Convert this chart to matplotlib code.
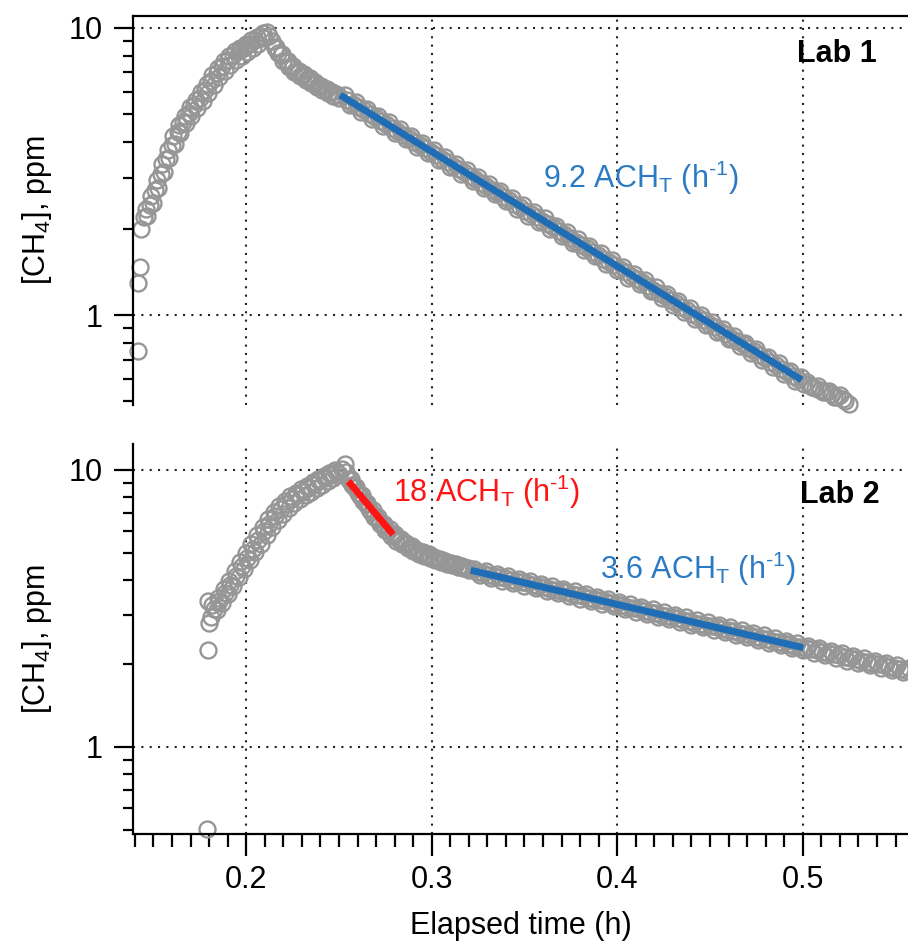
import matplotlib
matplotlib.use("Agg")
import matplotlib.pyplot as plt
from matplotlib.ticker import LogLocator, MultipleLocator, NullFormatter, FixedFormatter, FixedLocator

plt.rcParams['font.family'] = ['Liberation Sans', 'DejaVu Sans']
plt.rcParams['mathtext.default'] = 'regular'
plt.rcParams['font.size'] = 22

# ---- Lab 1 data (elapsed time in h, CH4 in ppm) ----
lab1_time = [0.1418, 0.1418, 0.1429,
    0.1435, 0.1450, 0.1465, 0.1480, 0.1495, 0.1510, 0.1525, 0.1540, 0.1555, 0.1570,
    0.1585, 0.1600, 0.1615, 0.1630, 0.1645, 0.1660, 0.1675, 0.1690, 0.1705, 0.1720,
    0.1735, 0.1750, 0.1765, 0.1780, 0.1795, 0.1810, 0.1825, 0.1840, 0.1855, 0.1870,
    0.1885, 0.1900, 0.1915, 0.1930, 0.1945, 0.1960, 0.1975, 0.1990, 0.2005, 0.2020,
    0.2035, 0.2050, 0.2065, 0.2080, 0.2095, 0.2110, 0.2125, 0.2140,
    0.2155, 0.2170, 0.2185, 0.2200, 0.2215, 0.2230, 0.2245, 0.2260, 0.2275, 0.2290,
    0.2305, 0.2320, 0.2335, 0.2350, 0.2365, 0.2380, 0.2395, 0.2410, 0.2425, 0.2440,
    0.2455, 0.2470, 0.2485, 0.2500,
    0.253, 0.256, 0.259, 0.262, 0.265, 0.268, 0.271, 0.274, 0.277, 0.280,
    0.283, 0.286, 0.289, 0.292, 0.295, 0.298, 0.301, 0.304, 0.307, 0.310,
    0.313, 0.316, 0.319, 0.322, 0.325, 0.328, 0.331, 0.334, 0.337, 0.340,
    0.343, 0.346, 0.349, 0.352, 0.355, 0.358, 0.361, 0.364, 0.367, 0.370,
    0.373, 0.376, 0.379, 0.382, 0.385, 0.388, 0.391, 0.394, 0.397, 0.400,
    0.403, 0.406, 0.409, 0.412, 0.415, 0.418, 0.421, 0.424, 0.427, 0.430,
    0.433, 0.436, 0.439, 0.442, 0.445, 0.448, 0.451, 0.454, 0.457, 0.460,
    0.463, 0.466, 0.469, 0.472, 0.475, 0.478, 0.481, 0.484, 0.487, 0.490,
    0.493, 0.496, 0.499, 0.502, 0.505, 0.508, 0.511, 0.514, 0.517, 0.520,
    0.523, 0.525]
lab1_ch4 = [0.75, 1.29, 1.47,
    2.00, 2.20, 2.22, 2.42, 2.45, 2.72, 2.78, 3.10, 3.15, 3.50,
    3.52, 3.92, 3.95, 4.35, 4.32, 4.72, 4.65, 5.05, 4.92, 5.38,
    5.25, 5.72, 5.55, 6.10, 5.95, 6.55, 6.35, 6.95, 6.75, 7.35,
    7.10, 7.75, 7.45, 8.05, 7.75, 8.30, 8.00, 8.55, 8.25, 8.80,
    8.50, 9.05, 8.80, 9.35, 9.20, 9.70, 9.40, 9.00,
    8.55, 8.20, 8.05, 7.70, 7.65, 7.30, 7.25, 7.00, 7.00, 6.80,
    6.85, 6.60, 6.65, 6.45, 6.45, 6.25, 6.30, 6.08, 6.12, 5.95,
    5.98, 5.80, 5.88, 5.70,
    5.82, 5.40, 5.52, 5.10, 5.22, 4.82, 4.95, 4.56, 4.69, 4.32,
    4.44, 4.09, 4.20, 3.86, 3.98, 3.66, 3.76, 3.46, 3.56, 3.28,
    3.37, 3.10, 3.19, 2.93, 3.02, 2.78, 2.85, 2.63, 2.70, 2.49,
    2.56, 2.35, 2.42, 2.22, 2.29, 2.11, 2.17, 2.00, 2.05, 1.89,
    1.94, 1.78, 1.84, 1.69, 1.74, 1.60, 1.65, 1.51, 1.56, 1.43,
    1.47, 1.35, 1.39, 1.28, 1.32, 1.21, 1.25, 1.15, 1.18, 1.085,
    1.12, 1.025, 1.06, 0.97, 1.00, 0.92, 0.945, 0.87, 0.895, 0.825,
    0.845, 0.78, 0.80, 0.74, 0.76, 0.70, 0.715, 0.66, 0.68, 0.625,
    0.64, 0.59, 0.61, 0.585, 0.56, 0.565, 0.54, 0.545, 0.52, 0.525,
    0.50, 0.49]
# second sampling row (interleaved readings)
lab1_time_b = [0.1458, 0.1488, 0.1518, 0.1548, 0.1578, 0.1608, 0.1638, 0.1668, 0.1698, 0.1728,
    0.1758, 0.1788, 0.1818, 0.1848, 0.1878, 0.1908, 0.1938, 0.1968, 0.1998, 0.2028,
    0.2058, 0.2088,
    0.2163, 0.2193, 0.2223, 0.2253, 0.2283, 0.2313, 0.2343, 0.2373, 0.2403, 0.2433,
    0.2463, 0.2493,
    0.2545, 0.2575, 0.2605, 0.2635, 0.2665, 0.2695, 0.2725, 0.2755, 0.2785, 0.2815,
    0.2845, 0.2875, 0.2905, 0.2935, 0.2965, 0.2995, 0.3025, 0.3055, 0.3085, 0.3115,
    0.3145, 0.3175, 0.3205, 0.3235, 0.3265, 0.3295, 0.3325, 0.3355, 0.3385, 0.3415,
    0.3445, 0.3475, 0.3505, 0.3535, 0.3565, 0.3595, 0.3625, 0.3655, 0.3685, 0.3715,
    0.3745, 0.3775, 0.3805, 0.3835, 0.3865, 0.3895, 0.3925, 0.3955, 0.3985, 0.4015,
    0.4045, 0.4075, 0.4105, 0.4135, 0.4165, 0.4195, 0.4225, 0.4255, 0.4285, 0.4315,
    0.4345, 0.4375, 0.4405, 0.4435, 0.4465, 0.4495, 0.4525, 0.4555, 0.4585, 0.4615,
    0.4645, 0.4675, 0.4705, 0.4735, 0.4765, 0.4795, 0.4825, 0.4855, 0.4885, 0.4915,
    0.4945, 0.4975,
    0.5005, 0.5035, 0.5065, 0.5095, 0.5125, 0.5155, 0.5185, 0.5215]
lab1_ch4_b = [2.35, 2.60, 2.95, 3.35, 3.75, 4.20, 4.60, 4.95, 5.30, 5.62,
    6.00, 6.40, 6.85, 7.25, 7.65, 8.00, 8.30, 8.55, 8.80, 9.05,
    9.30, 9.60,
    8.60, 8.10, 7.70, 7.35, 7.10, 6.90, 6.70, 6.50, 6.30, 6.15,
    6.00, 5.85,
    5.60, 5.45, 5.30, 5.16, 5.02, 4.88, 4.74, 4.62, 4.49, 4.37,
    4.25, 4.13, 4.02, 3.91, 3.81, 3.70, 3.60, 3.50, 3.41, 3.31,
    3.22, 3.14, 3.05, 2.97, 2.89, 2.81, 2.73, 2.66, 2.58, 2.51,
    2.44, 2.38, 2.31, 2.25, 2.19, 2.13, 2.07, 2.02, 1.96, 1.91,
    1.85, 1.80, 1.75, 1.71, 1.66, 1.62, 1.57, 1.53, 1.49, 1.45,
    1.41, 1.37, 1.335, 1.30, 1.26, 1.227, 1.195, 1.163, 1.13, 1.10,
    1.07, 1.04, 1.012, 0.985, 0.958, 0.932, 0.906, 0.882, 0.858, 0.834,
    0.812, 0.79, 0.768, 0.747, 0.727, 0.707, 0.687, 0.669, 0.651, 0.633,
    0.615, 0.599,
    0.575, 0.57, 0.555, 0.55, 0.54, 0.53, 0.52, 0.51]
lab1_fit_time = [0.2506, 0.4994]
lab1_fit_ch4 = [5.84, 0.594]

# ---- Lab 2 data ----
lab2_time = [0.1788, 0.1796, 0.1800, 0.1796,
    0.1810, 0.1825, 0.1840, 0.1855, 0.1870, 0.1885, 0.1900, 0.1915, 0.1930, 0.1945,
    0.1960, 0.1975, 0.1990, 0.2005, 0.2020, 0.2035, 0.2050, 0.2065, 0.2080, 0.2095,
    0.2110, 0.2125, 0.2140, 0.2155, 0.2170, 0.2185, 0.2200, 0.2215, 0.2230, 0.2245,
    0.2260, 0.2275, 0.2290, 0.2305, 0.2320, 0.2335, 0.2350, 0.2365, 0.2380, 0.2395,
    0.2410, 0.2425, 0.2440, 0.2455, 0.2470, 0.2485, 0.2500, 0.2515, 0.2530, 0.2540,
    0.2555, 0.2570, 0.2585, 0.2600, 0.2615, 0.2630, 0.2645, 0.2660, 0.2675, 0.2690,
    0.2705, 0.2720, 0.2735, 0.2750, 0.2765, 0.2780, 0.2795, 0.2810, 0.2825, 0.2840,
    0.2855, 0.2870, 0.2885, 0.2900, 0.2915, 0.2930, 0.2945, 0.2960, 0.2975, 0.2990,
    0.3005, 0.3020, 0.3035, 0.3050, 0.3065, 0.3080, 0.3095, 0.3110, 0.3125, 0.3140,
    0.3155, 0.3170, 0.3185, 0.3200,
    0.323, 0.326, 0.329, 0.332, 0.335, 0.338, 0.341, 0.344, 0.347, 0.350,
    0.353, 0.356, 0.359, 0.362, 0.365, 0.368, 0.371, 0.374, 0.377, 0.380,
    0.383, 0.386, 0.389, 0.392, 0.395, 0.398, 0.401, 0.404, 0.407, 0.410,
    0.413, 0.416, 0.419, 0.422, 0.425, 0.428, 0.431, 0.434, 0.437, 0.440,
    0.443, 0.446, 0.449, 0.452, 0.455, 0.458, 0.461, 0.464, 0.467, 0.470,
    0.473, 0.476, 0.479, 0.482, 0.485, 0.488, 0.491, 0.494, 0.497, 0.500,
    0.503, 0.506, 0.509, 0.512, 0.515, 0.518, 0.521, 0.524, 0.527, 0.530,
    0.533, 0.536, 0.539, 0.542, 0.545, 0.548, 0.551, 0.554, 0.557]
lab2_ch4 = [0.506, 2.24, 2.80, 3.35,
    2.95, 3.15, 3.12, 3.35, 3.32, 3.58, 3.55, 3.85, 3.82, 4.15,
    4.10, 4.48, 4.40, 4.82, 4.72, 5.20, 5.05, 5.60, 5.42, 6.00,
    5.80, 6.40, 6.20, 6.80, 6.60, 7.20, 6.95, 7.55, 7.30, 7.85,
    7.60, 8.10, 7.85, 8.35, 8.10, 8.60, 8.35, 8.85, 8.60, 9.10,
    8.85, 9.35, 9.10, 9.60, 9.35, 9.85, 9.65, 10.10, 10.50, 9.80,
    9.20, 8.85, 8.60, 8.25, 8.05, 7.70, 7.55, 7.20, 7.05, 6.75,
    6.65, 6.35, 6.30, 6.05, 6.00, 5.78, 5.78, 5.55, 5.58, 5.38,
    5.40, 5.22, 5.26, 5.08, 5.12, 4.98, 5.00, 4.88, 4.90, 4.80,
    4.82, 4.72, 4.74, 4.65, 4.67, 4.58, 4.60, 4.52, 4.54, 4.46,
    4.48, 4.41, 4.42, 4.35,
    4.40, 4.16, 4.31, 4.07, 4.22, 3.98, 4.13, 3.90, 4.05, 3.82,
    3.96, 3.74, 3.88, 3.66, 3.80, 3.58, 3.72, 3.50, 3.64, 3.43,
    3.56, 3.36, 3.49, 3.29, 3.41, 3.22, 3.34, 3.15, 3.27, 3.08,
    3.20, 3.01, 3.14, 2.95, 3.07, 2.89, 3.00, 2.83, 2.94, 2.76,
    2.87, 2.70, 2.82, 2.65, 2.76, 2.59, 2.70, 2.54, 2.64, 2.49,
    2.58, 2.43, 2.53, 2.38, 2.47, 2.33, 2.42, 2.28, 2.37, 2.23,
    2.32, 2.19, 2.27, 2.14, 2.22, 2.10, 2.18, 2.05, 2.13, 2.01,
    2.09, 1.97, 2.05, 1.93, 2.01, 1.89, 1.97, 1.86, 1.93]
lab2_time_b = [0.1818, 0.1848, 0.1878, 0.1908, 0.1938, 0.1968, 0.1998, 0.2028, 0.2058, 0.2088,
    0.2118, 0.2148, 0.2178, 0.2208, 0.2238, 0.2268, 0.2298, 0.2328, 0.2358, 0.2388,
    0.2418, 0.2448, 0.2478,
    0.2563, 0.2593, 0.2623, 0.2653, 0.2683, 0.2713, 0.2743, 0.2773, 0.2803, 0.2833,
    0.2863, 0.2893, 0.2923, 0.2953, 0.2983, 0.3013, 0.3043, 0.3073, 0.3103, 0.3133,
    0.3163, 0.3193,
    0.3245, 0.3275, 0.3305, 0.3335, 0.3365, 0.3395, 0.3425, 0.3455, 0.3485, 0.3515,
    0.3545, 0.3575, 0.3605, 0.3635, 0.3665, 0.3695, 0.3725, 0.3755, 0.3785, 0.3815,
    0.3845, 0.3875, 0.3905, 0.3935, 0.3965, 0.3995, 0.4025, 0.4055, 0.4085, 0.4115,
    0.4145, 0.4175, 0.4205, 0.4235, 0.4265, 0.4295, 0.4325, 0.4355, 0.4385, 0.4415,
    0.4445, 0.4475, 0.4505, 0.4535, 0.4565, 0.4595, 0.4625, 0.4655, 0.4685, 0.4715,
    0.4745, 0.4775, 0.4805, 0.4835, 0.4865, 0.4895, 0.4925, 0.4955, 0.4985, 0.5015,
    0.5045, 0.5075, 0.5105, 0.5135, 0.5165, 0.5195, 0.5225, 0.5255, 0.5285, 0.5315,
    0.5345, 0.5375, 0.5405, 0.5435, 0.5465, 0.5495, 0.5525, 0.5555]
lab2_ch4_b = [3.25, 3.45, 3.70, 3.98, 4.30, 4.65, 5.00, 5.40, 5.82, 6.22,
    6.62, 7.02, 7.40, 7.75, 8.02, 8.28, 8.52, 8.78, 9.02, 9.28,
    9.52, 9.78, 10.00,
    9.30, 8.70, 8.10, 7.60, 7.15, 6.75, 6.40, 6.10, 5.85, 5.65,
    5.45, 5.30, 5.15, 5.05, 4.95, 4.86, 4.78, 4.70, 4.62, 4.56,
    4.50, 4.44,
    4.28, 4.24, 4.19, 4.15, 4.10, 4.06, 4.02, 3.98, 3.93, 3.89,
    3.85, 3.81, 3.77, 3.73, 3.69, 3.65, 3.61, 3.57, 3.53, 3.50,
    3.46, 3.42, 3.38, 3.35, 3.31, 3.28, 3.24, 3.21, 3.17, 3.14,
    3.10, 3.07, 3.04, 3.00, 2.97, 2.94, 2.91, 2.88, 2.85, 2.81,
    2.78, 2.76, 2.73, 2.70, 2.67, 2.64, 2.61, 2.58, 2.56, 2.53,
    2.50, 2.48, 2.45, 2.42, 2.40, 2.37, 2.35, 2.32, 2.30, 2.28,
    2.25, 2.23, 2.21, 2.18, 2.16, 2.14, 2.11, 2.09, 2.07, 2.05,
    2.03, 2.01, 1.99, 1.97, 1.95, 1.93, 1.915, 1.90]
lab2_fast_time = [0.2550, 0.2792]
lab2_fast_ch4 = [9.1, 5.84]
lab2_slow_time = [0.321, 0.5003]
lab2_slow_ch4 = [4.34, 2.28]

xticks = [0.2, 0.3, 0.4, 0.5]
yticks = [1, 10]
ylabels = ['1', '10']

gray = '#969696'
blue = '#1f6db5'
blue_txt = '#2a7bc4'
red = '#ff1414'

fig = plt.figure(figsize=(9.08, 9.41), dpi=100)
ax1 = fig.add_axes([0.1465, 0.5696, 0.8535, 0.4139])
ax2 = fig.add_axes([0.1465, 0.1137, 0.8535, 0.4145])


def style(ax, ylim):
    ax.set_yscale('log')
    ax.set_xlim(0.139, 0.5567)
    ax.set_ylim(*ylim)
    ax.yaxis.set_major_locator(FixedLocator(yticks))
    ax.yaxis.set_major_formatter(FixedFormatter(ylabels))
    ax.yaxis.set_minor_locator(LogLocator(base=10, subs=[2, 3, 4, 5, 6, 7, 8, 9]))
    ax.yaxis.set_minor_formatter(NullFormatter())
    ax.xaxis.set_major_locator(FixedLocator(xticks))
    ax.xaxis.set_minor_locator(MultipleLocator(0.01))
    ax.spines['right'].set_visible(False)
    for s in ax.spines.values():
        s.set_linewidth(1.6)
    ax.tick_params(axis='y', which='major', length=14, width=1.6, pad=8, labelsize=22)
    ax.tick_params(axis='y', which='minor', length=7.5, width=1.6)
    ax.tick_params(axis='x', which='major', length=16, width=1.6, pad=6, labelsize=22)
    ax.tick_params(axis='x', which='minor', length=9, width=1.6)
    ax.grid(True, which='major', color='#222222', linestyle=(0, (1, 3)), linewidth=1.5)
    ax.set_ylabel('[CH$_4$], ppm', fontsize=22, labelpad=10)


style(ax1, (0.486, 11.05))
style(ax2, (0.485, 12.4))

ax1.spines['bottom'].set_visible(False)
ax1.tick_params(axis='x', which='both', bottom=False, labelbottom=False)
ax2.spines['top'].set_visible(False)

mk = dict(linestyle='none', marker='o', mfc='none', mec=gray, ms=11.5, mew=1.7, clip_on=False)

# hyphen (not minus) in the exponent, as in the original figure
rate = 'ACH$_T$ (h$^{\u2010' + '1}$)'

ax1.plot(lab1_time, lab1_ch4, **mk)
ax1.plot(lab1_time_b, lab1_ch4_b, **mk)
ax1.plot(lab1_fit_time, lab1_fit_ch4, '-', color=blue, lw=5, solid_capstyle='butt')
ax1.text(0.3602, 2.76, '9.2 ' + rate, color=blue_txt, fontsize=22, va='baseline')
ax1.text(0.497, 7.61, 'Lab 1', fontweight='bold', fontsize=22, va='baseline')

ax2.plot(lab2_time, lab2_ch4, **mk)
ax2.plot(lab2_time_b, lab2_ch4_b, **mk)
ax2.plot(lab2_fast_time, lab2_fast_ch4, '-', color=red, lw=5, solid_capstyle='butt')
ax2.plot(lab2_slow_time, lab2_slow_ch4, '-', color=blue, lw=5, solid_capstyle='butt')
ax2.text(0.2792, 7.68, '18 ' + rate, color=red, fontsize=22, va='baseline')
ax2.text(0.3907, 4.04, '3.6 ' + rate, color=blue_txt, fontsize=22, va='baseline')
ax2.text(0.4985, 7.59, 'Lab 2', fontweight='bold', fontsize=22, va='baseline')
ax2.set_xlabel('Elapsed time (h)', fontsize=22, labelpad=12)

fig.savefig('out.png', dpi=100)
